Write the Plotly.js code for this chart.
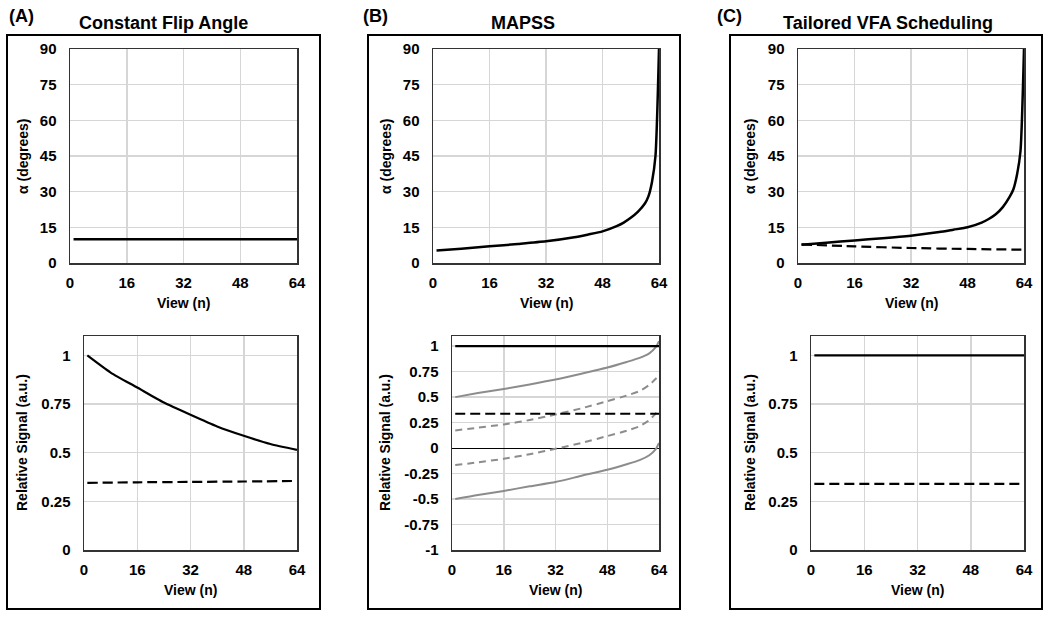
<!DOCTYPE html>
<html><head><meta charset="utf-8">
<script src="https://cdn.plot.ly/plotly-3.0.1.min.js"></script>
<style>html,body{margin:0;padding:0;background:#fff}#c{width:1050px;height:618px}</style>
</head><body><div id="c"></div>
<script>
// ---- data ----
const panelLabels = ["(A)", "(B)", "(C)"];
const panelTitles = ["Constant Flip Angle", "MAPSS", "Tailored VFA Scheduling"];
const xTicks = [0, 16, 32, 48, 64];
const alphaTicks = [0, 15, 30, 45, 60, 75, 90];
const sigTicks = [0, 0.25, 0.5, 0.75, 1];
const sigTicksB = [-1, -0.75, -0.5, -0.25, 0, 0.25, 0.5, 0.75, 1];

// (A) constant flip angle
const viewsAlphaA = [1, 64];
const alphaA = [10, 10];
const viewsSigA = [1, 8, 16, 24, 32, 40, 48, 56, 64];
const sigA = [1.0, 0.912, 0.835, 0.758, 0.695, 0.635, 0.587, 0.545, 0.515];
const viewsSigADash = [1, 16, 32, 48, 64];
const sigADash = [0.345, 0.348, 0.35, 0.352, 0.355];

// (B) MAPSS
const viewsAlphaB = [1, 8, 16, 24, 32, 40, 44, 48, 52, 54, 56, 58, 60, 61, 62, 63, 64];
const alphaB = [5.3, 6.0, 7.0, 8.0, 9.1, 10.8, 12.0, 13.3, 15.5, 17, 19, 21.5, 25, 28, 34, 45, 90];
const viewsSigB = [1, 8, 16, 24, 32, 40, 48, 54, 58, 61, 63, 64];
const sigBGrayUpper = [0.5, 0.54, 0.58, 0.625, 0.673, 0.73, 0.79, 0.845, 0.885, 0.93, 0.99, 1.05];
const sigBGrayLower = [-0.5, -0.46, -0.42, -0.375, -0.333, -0.272, -0.212, -0.158, -0.118, -0.07, -0.01, 0.05];
const sigBDashUpper = [0.173, 0.2, 0.232, 0.275, 0.33, 0.39, 0.46, 0.515, 0.56, 0.62, 0.68, 0.715];
const sigBDashLower = [-0.167, -0.14, -0.105, -0.06, -0.007, 0.05, 0.118, 0.17, 0.215, 0.275, 0.34, 0.37];
const viewsFlat = [1, 64];
const sigBSolid = [1, 1];
const sigBDash = [0.337, 0.337];

// (C) Tailored VFA
const viewsAlphaC = [1, 8, 16, 24, 32, 40, 44, 48, 52, 54, 56, 58, 60, 61, 62, 63, 64];
const alphaC = [7.7, 8.5, 9.5, 10.4, 11.5, 13.0, 14.0, 15.0, 17.0, 18.5, 20.5, 23.5, 28, 31, 37, 47, 90];
const viewsAlphaCDash = [1, 16, 32, 48, 64];
const alphaCDash = [7.8, 7.0, 6.3, 5.9, 5.6];
const sigCSolid = [1, 1];
const sigCDash = [0.34, 0.34];

// ---- layout helpers ----
const W = 1050, H = 618;
const FF = '"Liberation Sans", Arial, sans-serif';
const px = v => v / W, py = v => 1 - v / H;
const plots = [
  {x0: 70, x1: 297, y0: 49, y1: 263},
  {x0: 84, x1: 297, y0: 336, y1: 550},
  {x0: 433, x1: 659, y0: 49, y1: 263},
  {x0: 452, x1: 659, y0: 336, y1: 550},
  {x0: 798, x1: 1024, y0: 49, y1: 263},
  {x0: 811, x1: 1024, y0: 336, y1: 550}
];
const tickFont = {family: FF, size: 15, color: '#000', weight: 'bold'};
const layout = {
  width: W, height: H, margin: {l: 0, r: 0, t: 0, b: 0},
  paper_bgcolor: '#fff', plot_bgcolor: '#fff', showlegend: false,
  font: {family: FF, color: '#000'},
  shapes: [], annotations: []
};
function ax(i, isX) {
  const p = plots[i];
  const o = {
    showline: true, mirror: true, linecolor: '#333', linewidth: 1.5,
    showgrid: true, gridcolor: '#d6d6d6', gridwidth: 1.5,
    zeroline: false, ticks: '', tickfont: tickFont, fixedrange: true
  };
  if (isX) {
    o.domain = [px(p.x0), px(p.x1)];
    o.range = [0, 64]; o.tickvals = xTicks; o.ticktext = xTicks.map(String);
    o.ticklabelstandoff = 5;
    o.anchor = 'y' + (i ? i + 1 : '');
  } else {
    o.domain = [py(p.y1), py(p.y0)];
    o.anchor = 'x' + (i ? i + 1 : '');
    o.ticklabelstandoff = 9;
  }
  return o;
}
for (let i = 0; i < 6; i++) {
  const xa = ax(i, true), ya = ax(i, false);
  if (i % 2 === 0) { ya.range = [0, 90]; ya.tickvals = alphaTicks; ya.ticktext = alphaTicks.map(String); }
  else if (i === 3) { ya.range = [-1, 1.1]; ya.tickvals = sigTicksB; ya.ticktext = sigTicksB.map(String);
    ya.zeroline = true; ya.zerolinecolor = '#000'; ya.zerolinewidth = 1.2; }
  else { ya.range = [0, 1.1]; ya.tickvals = sigTicks; ya.ticktext = sigTicks.map(String); }
  const s = i ? i + 1 : '';
  layout['xaxis' + s] = xa; layout['yaxis' + s] = ya;
  const p = plots[i];
  layout.annotations.push({xref: 'paper', yref: 'paper', x: px((p.x0 + p.x1) / 2), y: py(i % 2 ? 590 : 303),
    text: 'View (n)', showarrow: false, xanchor: 'center', yanchor: 'middle',
    font: {family: FF, size: 14, color: '#000', weight: 'bold'}});
}
// y titles
const yTitleX = [23, 22, 386, 385, 750, 750];
for (let i = 0; i < 6; i++) {
  const p = plots[i];
  layout.annotations.push({xref: 'paper', yref: 'paper', x: px(yTitleX[i]), y: py((p.y0 + p.y1) / 2),
    text: i % 2 ? 'Relative Signal (a.u.)' : 'α (degrees)', textangle: -90, showarrow: false,
    xanchor: 'center', yanchor: 'middle', font: {family: FF, size: 14, color: '#000', weight: 'bold'}});
}
// panel boxes, labels, titles
const boxes = [[7, 320], [368, 680], [730, 1042]];
const labelX = [7, 361, 715];
const titleX = [163, 523, 888];
for (let k = 0; k < 3; k++) {
  layout.shapes.push({type: 'rect', xref: 'paper', yref: 'paper', x0: px(boxes[k][0]), x1: px(boxes[k][1]),
    y0: py(609), y1: py(35), line: {color: '#000', width: 2}, fillcolor: 'rgba(0,0,0,0)', layer: 'below'});
  layout.annotations.push({xref: 'paper', yref: 'paper', x: px(labelX[k]), y: py(16), text: panelLabels[k],
    showarrow: false, xanchor: 'left', yanchor: 'middle', font: {family: FF, size: 18, color: '#000', weight: 'bold'}});
  layout.annotations.push({xref: 'paper', yref: 'paper', x: px(titleX[k]), y: py(23), text: panelTitles[k],
    showarrow: false, xanchor: 'center', yanchor: 'middle', font: {family: FF, size: 18, color: '#000', weight: 'bold'}});
}

const BLK = '#000', GRY = '#8c8c8c';
const tr = (x, y, axi, color, width, dash) => ({
  x, y, type: 'scatter', mode: 'lines', xaxis: 'x' + (axi ? axi + 1 : ''), yaxis: 'y' + (axi ? axi + 1 : ''),
  line: {color, width, dash: dash || 'solid', shape: 'spline', smoothing: 0.6}, hoverinfo: 'skip'
});
const data = [
  tr(viewsAlphaA, alphaA, 0, BLK, 2.5),
  tr(viewsSigA, sigA, 1, BLK, 2.2),
  tr(viewsSigADash, sigADash, 1, BLK, 2.2, '10px,5px'),
  tr(viewsAlphaB, alphaB, 2, BLK, 2.5),
  tr(viewsSigB, sigBGrayUpper, 3, GRY, 2),
  tr(viewsSigB, sigBGrayLower, 3, GRY, 2),
  tr(viewsSigB, sigBDashUpper, 3, GRY, 2, '7px,5px'),
  tr(viewsSigB, sigBDashLower, 3, GRY, 2, '7px,5px'),
  tr(viewsFlat, sigBSolid, 3, BLK, 2.2),
  tr(viewsFlat, sigBDash, 3, BLK, 2.2, '10px,5px'),
  tr(viewsAlphaC, alphaC, 4, BLK, 2.5),
  tr(viewsAlphaCDash, alphaCDash, 4, BLK, 2.2, '10px,5px'),
  tr(viewsFlat, sigCSolid, 5, BLK, 2.2),
  tr(viewsFlat, sigCDash, 5, BLK, 2.2, '10px,5px')
];
Plotly.newPlot('c', data, layout, {staticPlot: true, displayModeBar: false});
</script></body></html>
